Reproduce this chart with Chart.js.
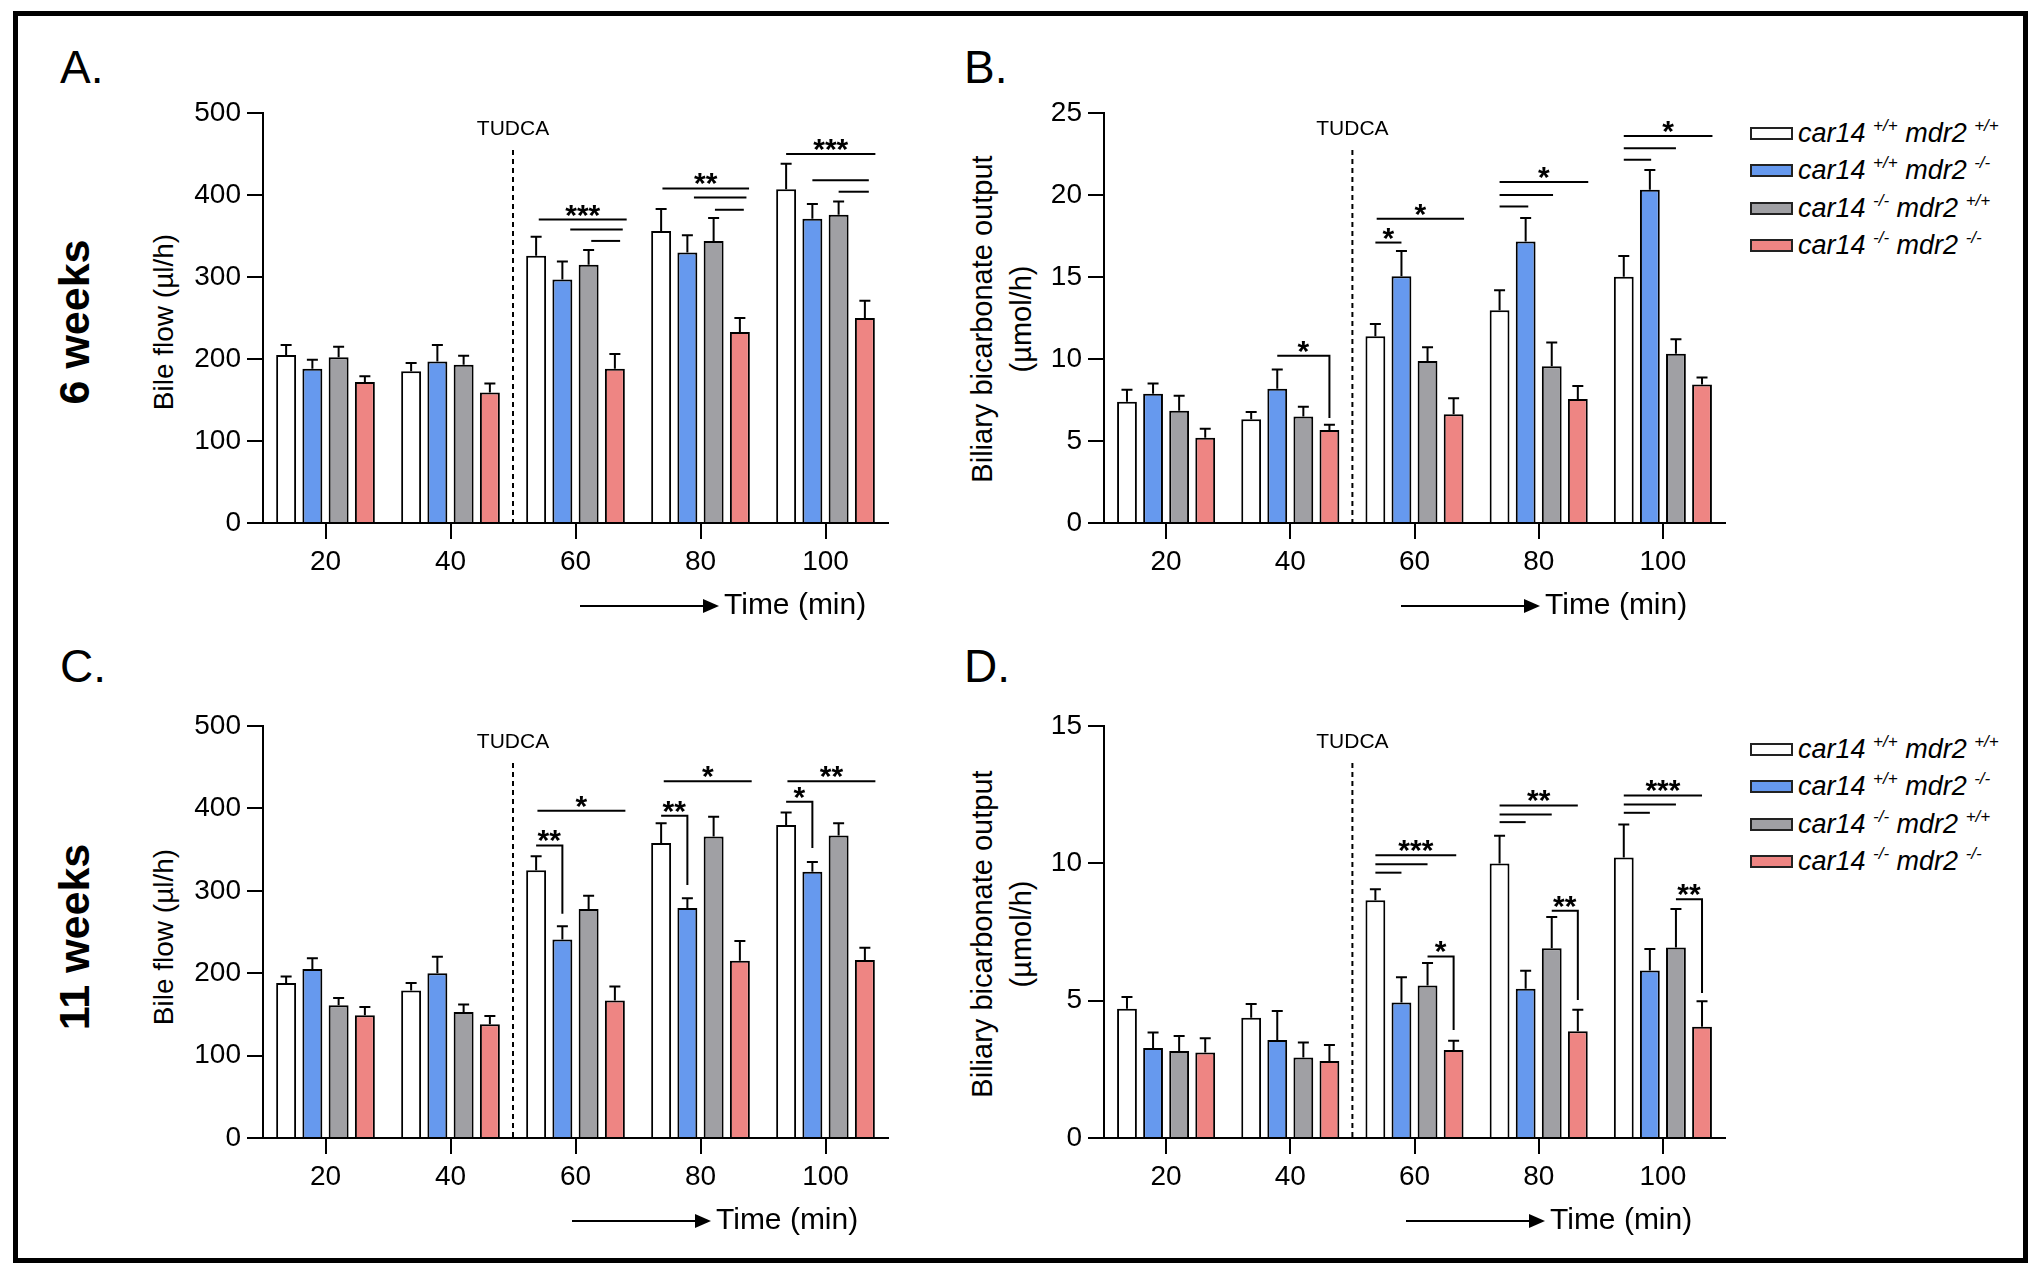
<!DOCTYPE html>
<html>
<head>
<meta charset="utf-8">
<script src="https://cdn.jsdelivr.net/npm/chart.js@4.4.1/dist/chart.umd.min.js"></script>
<style>
  body { margin: 0; background: #fff; }
  #page { position: relative; width: 2042px; height: 1276px; background: #fff; overflow: hidden;
          font-family: "Liberation Sans", Arial, sans-serif; color: #000; }
  #frame { position: absolute; left: 13px; top: 11px; width: 2015px; height: 1252px;
           border: 5px solid #000; box-sizing: border-box; }
  .letter { position: absolute; font-size: 46px; line-height: 46px; }
  .rot { position: absolute; white-space: nowrap; text-align: center;
         transform: translate(-50%, -50%) rotate(-90deg); }
  .weeks { font-weight: bold; font-size: 43px; }
  .ytitle { font-size: 28px; line-height: 39px; }
  .ytitle.wide { font-size: 29px; }
  canvas { position: absolute; }
  .legend-row { position: absolute; left: 1750px; height: 38px; display: flex; align-items: center;
                white-space: nowrap; font-style: italic; font-size: 27px; }
  .legend-row .box { width: 43px; height: 13px; border: 2px solid #222; box-sizing: border-box; margin-right: 5px; }
  .legend-row .txt { display: block; line-height: 31px; }
  .legend-row sup { font-size: 17px; vertical-align: 11px; line-height: 0; }
</style>
</head>
<body>
<div id="page">
  <div id="frame"></div>
  <div class="letter" style="left:60px; top:44px">A.</div>
  <div class="letter" style="left:964px; top:44px">B.</div>
  <div class="letter" style="left:60px; top:643px">C.</div>
  <div class="letter" style="left:964px; top:643px">D.</div>
  <div class="rot weeks" style="left:74px; top:322px">6 weeks</div>
  <div class="rot weeks" style="left:74px; top:937px">11 weeks</div>
  <div class="rot ytitle" style="left:163px; top:322px">Bile flow (µl/h)</div>
  <div class="rot ytitle" style="left:163px; top:937px">Bile flow (µl/h)</div>
  <div class="rot ytitle wide" style="left:1002px; top:319px">Biliary bicarbonate output<br>(µmol/h)</div>
  <div class="rot ytitle wide" style="left:1002px; top:934px">Biliary bicarbonate output<br>(µmol/h)</div>
  <canvas id="chartA"></canvas>
  <canvas id="chartB"></canvas>
  <canvas id="chartC"></canvas>
  <canvas id="chartD"></canvas>
</div>
<script>
// Данные
const timePoints = ["20", "40", "60", "80", "100"];
const car14Alleles = ["+/+", "+/+", "-/-", "-/-"];
const mdr2Alleles = ["+/+", "-/-", "+/+", "-/-"];
const barColors = ["#ffffff", "#6699ee", "#a0a0a4", "#ee8583"];

const flowTicks = [0, 100, 200, 300, 400, 500];
const bicarb6Ticks = [0, 5, 10, 15, 20, 25];
const bicarb11Ticks = [0, 5, 10, 15];

// A. Bile flow, 6 weeks (µl/h): среднее и SEM по генотипам
const flow6Mean = [
    [205, 185, 326, 356, 407],
    [188, 197, 297, 330, 371],
    [202, 193, 315, 344, 376],
    [172, 159, 188, 233, 250]
];
const flow6Sem = [
    [12, 10, 23, 27, 31],
    [11, 20, 22, 21, 18],
    [13, 11, 18, 28, 16],
    [7, 11, 18, 17, 21]
];

// B. Biliary bicarbonate output, 6 weeks (µmol/h)
const bicarb6Mean = [
    [7.39, 6.33, 11.38, 12.98, 15.02],
    [7.88, 8.18, 15.05, 17.17, 20.32],
    [6.85, 6.50, 9.88, 9.56, 10.32],
    [5.20, 5.67, 6.63, 7.56, 8.45]
];
const bicarb6Sem = [
    [0.74, 0.44, 0.76, 1.21, 1.26],
    [0.62, 1.18, 1.53, 1.43, 1.21],
    [0.91, 0.59, 0.83, 1.45, 0.89],
    [0.54, 0.32, 0.98, 0.79, 0.42]
];

// C. Bile flow, 11 weeks (µl/h)
const flow11Mean = [
    [188, 179, 325, 358, 380],
    [205, 200, 241, 279, 323],
    [161, 153, 278, 366, 367],
    [149, 138, 167, 215, 216]
];
const flow11Sem = [
    [8, 9, 17, 24, 15],
    [13, 20, 16, 12, 12],
    [9, 9, 16, 24, 15],
    [10, 10, 17, 24, 15]
];

// D. Biliary bicarbonate output, 11 weeks (µmol/h)
const bicarb11Mean = [
    [4.71, 4.38, 8.66, 9.99, 10.21],
    [3.28, 3.57, 4.93, 5.43, 6.10],
    [3.17, 2.93, 5.55, 6.91, 6.94],
    [3.11, 2.80, 3.20, 3.89, 4.05]
];
const bicarb11Sem = [
    [0.42, 0.50, 0.40, 1.01, 1.20],
    [0.56, 1.05, 0.92, 0.66, 0.78],
    [0.54, 0.55, 0.82, 1.14, 1.40],
    [0.52, 0.59, 0.34, 0.78, 0.93]
];

// Значимость: [группа, от столбца, до столбца, уровень, метка, опуск до]
const flow6Sig = [
    [2, 0.1, 3.45, 370, "***"], [2, 1.3, 3.3, 358, ""], [2, 2.1, 3.2, 344, ""],
    [3, 0.05, 3.35, 408, "**"], [3, 1.25, 3.25, 397, ""], [3, 2.05, 3.15, 382, ""],
    [4, 0, 3.4, 450, "***"], [4, 1, 3.15, 418, ""], [4, 2, 3.15, 404, ""]
];
const bicarb6Sig = [
    [1, 1, 3, 10.2, "*", 6.4],
    [2, 0, 1, 17.1, "*"], [2, 0.05, 3.4, 18.55, "*"],
    [3, 0, 1.1, 19.3, ""], [3, 0, 2.05, 20.0, ""], [3, 0, 3.4, 20.8, "*"],
    [4, 0, 1.05, 22.15, ""], [4, 0, 2, 22.85, ""], [4, 0, 3.4, 23.6, "*"]
];
const flow11Sig = [
    [2, 0, 1, 355, "**", 272], [2, 0.05, 3.4, 397, "*"],
    [3, 0, 1, 391, "**", 307], [3, 0.1, 3.45, 433, "*"],
    [4, 0, 1, 408, "*", 352], [4, 0.05, 3.4, 433, "**"]
];
const bicarb11Sig = [
    [2, 0, 1, 9.66, ""], [2, 0, 2, 9.97, ""], [2, 0, 3.1, 10.29, "***"], [2, 2, 3, 6.61, "*", 3.93],
    [3, 0, 1, 11.5, ""], [3, 0, 2, 11.78, ""], [3, 0, 3, 12.11, "**"], [3, 2, 3, 8.27, "**", 5.02],
    [4, 0, 1, 11.84, ""], [4, 0, 2, 12.14, ""], [4, 0, 3, 12.47, "***"], [4, 2, 3, 8.69, "**", 5.28]
];

const FONT = "'Liberation Sans', Arial, sans-serif";
Chart.defaults.font.family = FONT;
Chart.defaults.color = "#000";

// Панель: box — область графика в пикселях страницы
function makePanel(id, box, means, sems, ticks, sig, timeX, legendTop) {
    const padL = 100, padT = 60, padR = 20, padB = 115;
    const canvas = document.getElementById(id);
    const w = box.right - box.left + padL + padR;
    const h = box.bottom - box.top + padT + padB;
    canvas.width = w; canvas.height = h;
    canvas.style.left = (box.left - padL) + "px";
    canvas.style.top = (box.top - padT) + "px";
    canvas.style.width = w + "px";
    canvas.style.height = h + "px";

    const extras = {
        id: "extras",
        afterDatasetsDraw(chart) {
            const ctx = chart.ctx;
            const xs = chart.scales.x, ys = chart.scales.y, area = chart.chartArea;
            ctx.save();
            ctx.strokeStyle = "#000";
            ctx.fillStyle = "#000";
            ctx.lineWidth = 2;

            // Планки погрешностей (только вверх)
            means.forEach((series, i) => {
                chart.getDatasetMeta(i).data.forEach((bar, j) => {
                    const top = ys.getPixelForValue(series[j] + sems[i][j]);
                    ctx.beginPath();
                    ctx.moveTo(bar.x, bar.y);
                    ctx.lineTo(bar.x, top);
                    ctx.moveTo(bar.x - 5.5, top);
                    ctx.lineTo(bar.x + 5.5, top);
                    ctx.stroke();
                });
            });

            // Линия TUDCA
            const xd = (xs.getPixelForValue(1) + xs.getPixelForValue(2)) / 2;
            ctx.setLineDash([5, 4]);
            ctx.beginPath();
            ctx.moveTo(xd, area.top + 37);
            ctx.lineTo(xd, area.bottom);
            ctx.stroke();
            ctx.setLineDash([]);
            ctx.font = "21px " + FONT;
            ctx.textAlign = "center";
            ctx.textBaseline = "middle";
            ctx.fillText("TUDCA", xd, area.top + 16);

            // Скобки значимости
            ctx.font = "bold 30px " + FONT;
            ctx.textBaseline = "alphabetic";
            sig.forEach(([g, a, b, v, label, drop]) => {
                const x0 = chart.getDatasetMeta(0).data[g].x;
                const step = chart.getDatasetMeta(1).data[g].x - x0;
                const xa = x0 + a * step, xb = x0 + b * step;
                const yy = ys.getPixelForValue(v);
                ctx.beginPath();
                ctx.moveTo(xa, yy);
                ctx.lineTo(xb, yy);
                if (drop !== undefined) ctx.lineTo(xb, ys.getPixelForValue(drop));
                ctx.stroke();
                if (label) ctx.fillText(label, (xa + xb) / 2, yy + 5);
            });

            // Стрелка времени
            const tx = area.left + timeX, ty = area.bottom + 83;
            ctx.beginPath();
            ctx.moveTo(tx - 144, ty);
            ctx.lineTo(tx - 20, ty);
            ctx.stroke();
            ctx.beginPath();
            ctx.moveTo(tx - 21, ty - 7);
            ctx.lineTo(tx - 5, ty);
            ctx.lineTo(tx - 21, ty + 7);
            ctx.closePath();
            ctx.fill();
            ctx.font = "30px " + FONT;
            ctx.textAlign = "left";
            ctx.textBaseline = "middle";
            ctx.fillText("Time (min)", tx, ty);
            ctx.restore();
        }
    };

    new Chart(canvas, {
        type: "bar",
        data: {
            labels: timePoints,
            datasets: means.map((series, i) => ({
                label: "car14 " + car14Alleles[i] + " mdr2 " + mdr2Alleles[i],
                data: series,
                backgroundColor: barColors[i],
                borderColor: "#000",
                borderWidth: 2,
                categoryPercentage: 0.84,
                barPercentage: 0.76
            }))
        },
        options: {
            responsive: false,
            animation: false,
            devicePixelRatio: 1,
            layout: { padding: { left: 0, top: padT, right: padR, bottom: 0 } },
            plugins: { legend: { display: false }, tooltip: { enabled: false } },
            scales: {
                x: {
                    grid: { drawOnChartArea: false, offset: false, tickLength: 16, color: "#000", lineWidth: 2 },
                    border: { color: "#000", width: 2 },
                    ticks: { font: { size: 28 }, padding: 6, maxRotation: 0, autoSkip: false },
                    afterFit: s => { s.height = padB; }
                },
                y: {
                    min: ticks[0],
                    max: ticks[ticks.length - 1],
                    grid: { drawOnChartArea: false, tickLength: 16, color: "#000", lineWidth: 2 },
                    border: { color: "#000", width: 2 },
                    ticks: { stepSize: ticks[1] - ticks[0], font: { size: 28 }, padding: 6 },
                    afterFit: s => { s.width = padL; }
                }
            }
        },
        plugins: [extras]
    });

    // Легенда справа
    if (legendTop !== null) {
        const page = document.getElementById("page");
        car14Alleles.forEach((c, i) => {
            const row = document.createElement("div");
            row.className = "legend-row";
            row.style.top = (legendTop + i * 37.6 - 19) + "px";
            row.innerHTML = "<div class=\"box\" style=\"background:" + barColors[i] + "\"></div>" +
                "<span class=\"txt\">car14 <sup>" + c + "</sup> mdr2 <sup>" + mdr2Alleles[i] + "</sup></span>";
            page.appendChild(row);
        });
    }
}

makePanel("chartA", { left: 263, top: 113, right: 888, bottom: 523 }, flow6Mean, flow6Sem, flowTicks, flow6Sig, 461, null);
makePanel("chartB", { left: 1104, top: 113, right: 1725, bottom: 523 }, bicarb6Mean, bicarb6Sem, bicarb6Ticks, bicarb6Sig, 441, 133);
makePanel("chartC", { left: 263, top: 726, right: 888, bottom: 1138 }, flow11Mean, flow11Sem, flowTicks, flow11Sig, 453, null);
makePanel("chartD", { left: 1104, top: 726, right: 1725, bottom: 1138 }, bicarb11Mean, bicarb11Sem, bicarb11Ticks, bicarb11Sig, 446, 749);
</script>
</body>
</html>
